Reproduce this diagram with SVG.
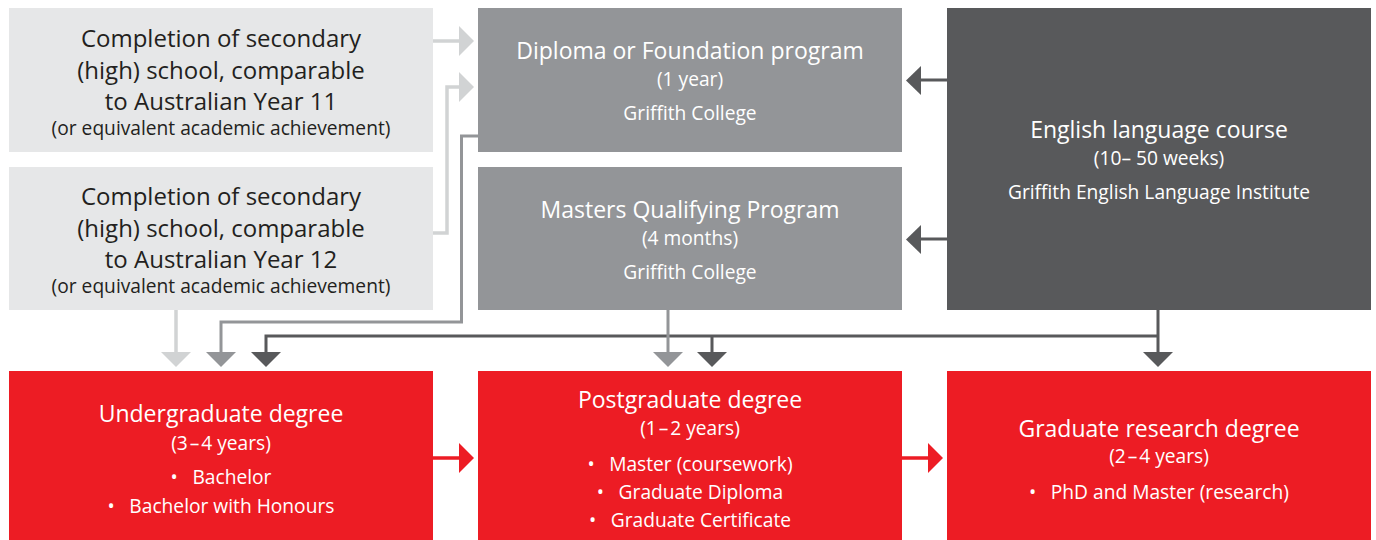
<svg xmlns="http://www.w3.org/2000/svg" width="1376" height="540" viewBox="0 0 1376 540">
<style>
text{font-family:"Open Sans","Noto Sans","Liberation Sans",sans-serif;text-anchor:middle}
.t{font-size:23px}
.tl{font-size:24px}
.s{font-size:19.2px}
.dk{fill:#231f20}
.wh{fill:#ffffff}
.light{fill:#e6e7e8}
.mid{fill:#939598}
.dark{fill:#58595b}
.red{fill:#ed1c24}
.cl{stroke:#d1d3d4;stroke-width:3.5;fill:none}
.cm{stroke:#939598;stroke-width:3;fill:none}
.cd{stroke:#58595b;stroke-width:3;fill:none}
.cr{stroke:#ed1c24;stroke-width:3.5;fill:none}
</style>
<rect width="1376" height="540" fill="#ffffff"/>
<g id="year11">
<rect class="light" x="9" y="8" width="424" height="144"/>
<text class="tl dk" x="221" y="47">Completion of secondary</text>
<text class="tl dk" x="221" y="79">(high) school, comparable</text>
<text class="tl dk" x="221" y="110">to Australian Year 11</text>
<text class="s dk" x="221" y="135">(or equivalent academic achievement)</text>
</g>
<g id="year12">
<rect class="light" x="9" y="167" width="424" height="143"/>
<text class="tl dk" x="221" y="205">Completion of secondary</text>
<text class="tl dk" x="221" y="237">(high) school, comparable</text>
<text class="tl dk" x="221" y="268">to Australian Year 12</text>
<text class="s dk" x="221" y="293">(or equivalent academic achievement)</text>
</g>
<g id="diploma">
<rect class="mid" x="478" y="8" width="424" height="144"/>
<text class="t wh" x="690" y="59">Diploma or Foundation program</text>
<text class="s wh" x="690" y="86">(1 year)</text>
<text class="s wh" x="690" y="120">Griffith College</text>
</g>
<g id="masters-qualifying">
<rect class="mid" x="478" y="167" width="424" height="143"/>
<text class="t wh" x="690" y="218">Masters Qualifying Program</text>
<text class="s wh" x="690" y="245">(4 months)</text>
<text class="s wh" x="690" y="279">Griffith College</text>
</g>
<g id="english">
<rect class="dark" x="947" y="8" width="424" height="302"/>
<text class="t wh" x="1159" y="138">English language course</text>
<text class="s wh" x="1159" y="165">(10– 50 weeks)</text>
<text class="s wh" x="1159" y="199">Griffith English Language Institute</text>
</g>
<g id="undergraduate">
<rect class="red" x="9" y="371" width="424" height="169"/>
<text class="t wh" x="221" y="422">Undergraduate degree</text>
<text class="s wh" x="221" y="450">(3&#8202;–&#8202;4 years)</text>
<text class="s wh" x="221" y="484">•&#8194; Bachelor</text>
<text class="s wh" x="221" y="513">•&#8194; Bachelor with Honours</text>
</g>
<g id="postgraduate">
<rect class="red" x="478" y="371" width="424" height="169"/>
<text class="t wh" x="690" y="408">Postgraduate degree</text>
<text class="s wh" x="690" y="435">(1&#8202;–&#8202;2 years)</text>
<text class="s wh" x="690" y="471">•&#8194; Master (coursework)</text>
<text class="s wh" x="690" y="499">•&#8194; Graduate Diploma</text>
<text class="s wh" x="690" y="527">•&#8194; Graduate Certificate</text>
</g>
<g id="research">
<rect class="red" x="947" y="371" width="424" height="169"/>
<text class="t wh" x="1159" y="437">Graduate research degree</text>
<text class="s wh" x="1159" y="463">(2&#8202;–&#8202;4 years)</text>
<text class="s wh" x="1159" y="499">•&#8194; PhD and Master (research)</text>
</g>
<g id="connectors">
<path class="cd" d="M1158 336H266V352M712 336V352M1158 310V352M947 80H920M947 239H920"/>
<polygon fill="#58595b" points="251,352 281,352 266,367"/>
<polygon fill="#58595b" points="697,352 727,352 712,367"/>
<polygon fill="#58595b" points="1143,352 1173,352 1158,367"/>
<polygon fill="#58595b" points="921,66 906,80.5 921,95"/>
<polygon fill="#58595b" points="921,225 906,239.5 921,254"/>
<path class="cm" d="M478 136H461.5V322H221V353M668 310V353"/>
<polygon fill="#939598" points="206,352 236,352 221,367"/>
<polygon fill="#939598" points="653,352 683,352 668,367"/>
<path class="cl" d="M433 41H460M433 233H447V87H460M176 310V353"/>
<polygon fill="#d1d3d4" points="459,26 474,41 459,56"/>
<polygon fill="#d1d3d4" points="459,72 474,87 459,102"/>
<polygon fill="#d1d3d4" points="161,352 191,352 176,367"/>
<path class="cr" d="M433 458H460M902 458H929"/>
<polygon fill="#ed1c24" points="459,443 474,458 459,473"/>
<polygon fill="#ed1c24" points="928,443 943,458 928,473"/>
</g>
</svg>
